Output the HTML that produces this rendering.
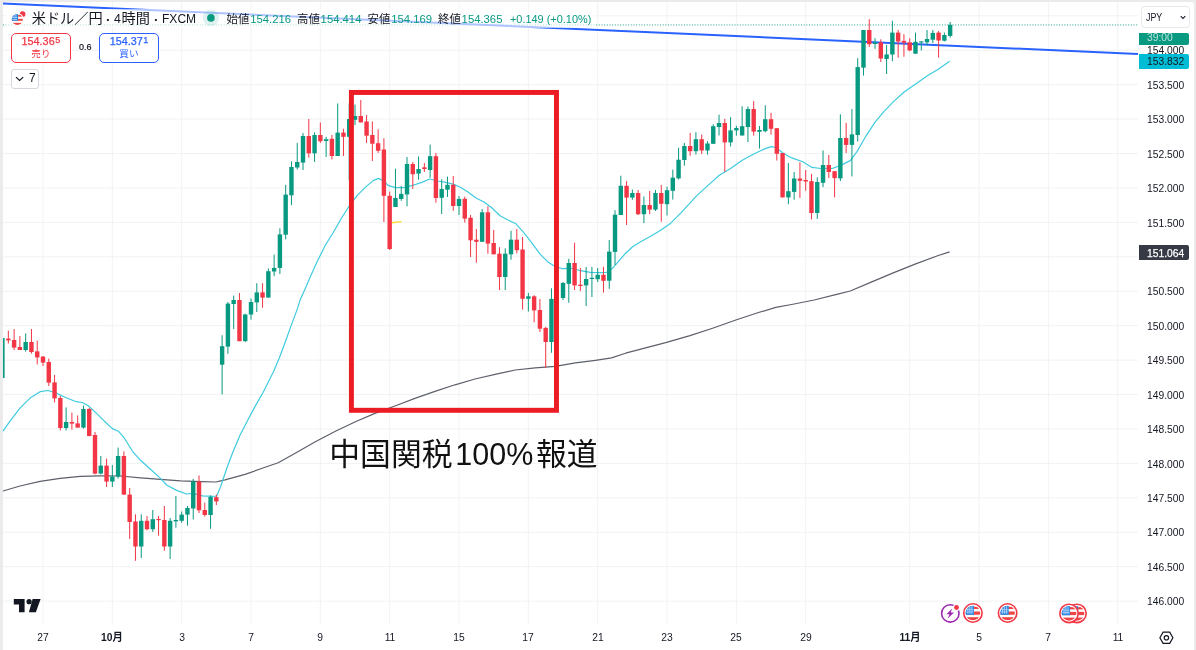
<!DOCTYPE html>
<html lang="ja"><head><meta charset="utf-8"><title>USDJPY</title>
<style>
html,body{margin:0;padding:0}
body{width:1196px;height:650px;overflow:hidden;background:#ebebeb;position:relative;font-family:"Liberation Sans","Noto Sans CJK JP",sans-serif;color:#131722}
#chart{position:absolute;left:2.8px;top:1.9px;width:1191.2px;height:649px;background:#fff;border-radius:3px 3px 0 0}
svg{position:absolute;left:0;top:0}
.g{stroke:#f1f3f3;stroke-width:1}
.yl{position:absolute;left:1146.8px;width:46px;text-align:left;transform:scaleX(.945);transform-origin:0 50%;font-size:10.9px;line-height:14px;height:14px;color:#131722;white-space:nowrap}
.tl{position:absolute;top:630.2px;width:40px;text-align:center;transform:scaleX(.945);font-size:10.9px;line-height:14px;height:14px;white-space:nowrap}
.tl.b{font-weight:bold}
.abs{position:absolute;white-space:nowrap}
.lg{position:absolute;top:12px;font-size:10.9px;line-height:14px;white-space:nowrap}
.gv{color:#089981}
.tt{position:absolute;top:8.2px;font-size:14.2px;line-height:20px;color:#131722;white-space:nowrap;transform-origin:0 50%}
.tt.la{font-size:13.7px;top:8.6px}
.pl{position:absolute;left:1139px;width:50.2px;border-radius:0 2px 2px 0;font-size:10.9px;white-space:nowrap;overflow:hidden}
.pl span{display:inline-block;margin-left:7.8px;transform:scaleX(.945);transform-origin:0 50%}
.lk{font-size:11.4px;color:#131722}
.lv{display:inline-block;color:#089981;font-size:11.3px;transform-origin:0 50%;margin-left:.8px}
.bs{position:absolute;top:33px;height:28px;border:1px solid;border-radius:5px;text-align:center;background:#fff;white-space:nowrap}
.bs .p{font-size:10.8px;line-height:12px;margin-top:1px;-webkit-text-stroke:.25px currentColor}
.bs .p span{font-size:9px;position:relative;top:-2.2px;margin-left:.5px}
.bs .t{font-size:9.6px;line-height:12px;margin-top:.1px}
</style></head><body>
<div id="chart"></div>
<svg width="1196" height="650" viewBox="0 0 1196 650">
<line x1="3" y1="15.82" x2="1138" y2="15.82" class="g"/>
<line x1="3" y1="50.25" x2="1138" y2="50.25" class="g"/>
<line x1="3" y1="84.68" x2="1138" y2="84.68" class="g"/>
<line x1="3" y1="119.11" x2="1138" y2="119.11" class="g"/>
<line x1="3" y1="153.54" x2="1138" y2="153.54" class="g"/>
<line x1="3" y1="187.97" x2="1138" y2="187.97" class="g"/>
<line x1="3" y1="222.40" x2="1138" y2="222.40" class="g"/>
<line x1="3" y1="256.83" x2="1138" y2="256.83" class="g"/>
<line x1="3" y1="291.26" x2="1138" y2="291.26" class="g"/>
<line x1="3" y1="325.69" x2="1138" y2="325.69" class="g"/>
<line x1="3" y1="360.12" x2="1138" y2="360.12" class="g"/>
<line x1="3" y1="394.55" x2="1138" y2="394.55" class="g"/>
<line x1="3" y1="428.98" x2="1138" y2="428.98" class="g"/>
<line x1="3" y1="463.41" x2="1138" y2="463.41" class="g"/>
<line x1="3" y1="497.84" x2="1138" y2="497.84" class="g"/>
<line x1="3" y1="532.27" x2="1138" y2="532.27" class="g"/>
<line x1="3" y1="566.70" x2="1138" y2="566.70" class="g"/>
<line x1="3" y1="601.13" x2="1138" y2="601.13" class="g"/>
<line x1="43.00" y1="2" x2="43.00" y2="624.6" class="g"/>
<line x1="112.34" y1="2" x2="112.34" y2="624.6" class="g"/>
<line x1="181.67" y1="2" x2="181.67" y2="624.6" class="g"/>
<line x1="251.01" y1="2" x2="251.01" y2="624.6" class="g"/>
<line x1="320.34" y1="2" x2="320.34" y2="624.6" class="g"/>
<line x1="389.68" y1="2" x2="389.68" y2="624.6" class="g"/>
<line x1="459.02" y1="2" x2="459.02" y2="624.6" class="g"/>
<line x1="528.35" y1="2" x2="528.35" y2="624.6" class="g"/>
<line x1="597.69" y1="2" x2="597.69" y2="624.6" class="g"/>
<line x1="667.02" y1="2" x2="667.02" y2="624.6" class="g"/>
<line x1="736.36" y1="2" x2="736.36" y2="624.6" class="g"/>
<line x1="805.70" y1="2" x2="805.70" y2="624.6" class="g"/>
<line x1="909.70" y1="2" x2="909.70" y2="624.6" class="g"/>
<line x1="979.04" y1="2" x2="979.04" y2="624.6" class="g"/>
<line x1="1048.37" y1="2" x2="1048.37" y2="624.6" class="g"/>
<line x1="1117.71" y1="2" x2="1117.71" y2="624.6" class="g"/>
<path d="M3.0,491.0 L20.0,486.0 L40.1,481.4 L60.2,478.4 L80.3,476.4 L100.3,475.8 L120.4,476.0 L140.5,477.8 L160.5,479.4 L180.6,480.8 L200.7,481.6 L215.7,482.0 L220.7,480.8 L225.0,479.8 L245.0,474.4 L265.1,467.3 L278.2,462.7 L295.2,453.3 L315.3,441.8 L335.4,431.2 L355.4,421.8 L375.5,413.1 L395.6,405.7 L415.6,398.1 L435.7,391.1 L455.0,384.8 L475.0,379.0 L495.1,374.3 L515.2,370.0 L535.3,367.9 L555.3,366.3 L575.4,362.9 L595.5,360.3 L611.5,357.9 L625.6,353.2 L645.6,347.8 L665.7,342.6 L690.0,335.6 L712.6,328.2 L735.1,320.3 L757.7,312.8 L775.8,307.4 L791.6,304.5 L814.2,300.0 L836.7,294.3 L850.3,291.0 L870.6,282.4 L893.2,272.9 L915.7,263.9 L938.3,255.5 L949.6,251.9" fill="none" stroke="#5d606b" stroke-width="1.2" stroke-linejoin="round"/>
<path d="M3.0,431.2 L10.0,421.2 L20.0,408.1 L30.1,398.1 L40.1,391.7 L48.2,390.5 L56.2,393.1 L66.2,397.7 L76.3,401.7 L82.3,402.5 L88.3,405.7 L96.3,413.1 L104.4,421.2 L112.4,428.6 L118.4,431.2 L124.4,438.2 L132.5,451.3 L140.5,460.3 L150.5,469.3 L160.5,478.4 L166.6,485.0 L176.6,490.4 L186.6,494.0 L192.7,493.4 L202.7,495.8 L212.7,496.4 L216.7,496.0 L220.7,486.4 L226.8,468.3 L232.8,452.3 L240.0,435.2 L248.1,419.4 L255.1,406.4 L263.2,392.3 L273.2,372.3 L279.2,358.2 L285.2,342.2 L291.3,325.1 L297.3,309.1 L300.3,299.4 L305.3,288.4 L311.3,274.4 L317.3,261.3 L325.3,245.3 L333.4,232.2 L341.4,218.2 L349.4,205.7 L357.5,195.1 L365.5,187.1 L373.5,180.4 L378.5,178.4 L383.5,181.0 L388.6,185.7 L395.6,187.7 L403.6,187.7 L411.6,185.7 L421.7,182.4 L429.7,179.0 L437.7,181.0 L445.8,182.4 L453.8,184.4 L460.0,187.0 L468.0,192.0 L476.0,198.0 L484.0,202.0 L492.0,208.0 L500.0,215.8 L508.0,220.0 L516.0,223.8 L524.2,233.2 L532.2,243.3 L540.3,254.3 L548.3,262.3 L554.3,266.0 L562.3,268.7 L572.4,268.3 L580.4,270.7 L590.4,272.3 L600.5,272.7 L606.5,272.3 L612.5,268.3 L618.5,261.3 L624.6,254.3 L632.6,246.7 L640.6,241.8 L650.6,236.2 L660.7,230.2 L670.7,223.2 L680.7,213.1 L690.8,202.1 L696.8,195.6 L708.0,185.4 L719.3,175.3 L730.6,168.5 L741.9,160.6 L753.2,154.3 L764.5,148.9 L771.3,146.6 L775.8,147.5 L782.6,152.7 L791.6,157.9 L802.9,161.7 L811.9,167.4 L820.9,168.5 L832.2,168.5 L841.2,165.1 L850.3,160.6 L857.0,151.6 L866.1,135.8 L875.1,122.2 L884.1,111.4 L893.2,101.9 L904.4,91.8 L915.7,83.9 L927.0,76.0 L938.3,69.2 L949.6,61.3" fill="none" stroke="#3ecbdf" stroke-width="1.2" stroke-linejoin="round"/>
<line x1="3" y1="24.8" x2="1138" y2="24.8" stroke="#089981" stroke-width="1.7" stroke-dasharray="1,1.66" opacity="0.5"/>
<line x1="3" y1="3.6" x2="1138" y2="53.95" stroke="#2962ff" stroke-width="2"/>
<rect x="3" y="338" width="1.6" height="40" fill="#089981"/>
<rect x="7.83" y="330.6" width="1" height="13.0" fill="#f23645"/>
<rect x="6.13" y="338.6" width="4.4" height="1.8" fill="#f23645"/>
<rect x="13.61" y="329.0" width="1" height="21.0" fill="#f23645"/>
<rect x="11.91" y="340.0" width="4.4" height="7.6" fill="#f23645"/>
<rect x="19.39" y="336.0" width="1" height="14.0" fill="#f23645"/>
<rect x="17.69" y="347.0" width="4.4" height="3.0" fill="#f23645"/>
<rect x="25.17" y="333.4" width="1" height="18.2" fill="#089981"/>
<rect x="23.47" y="342.0" width="4.4" height="8.0" fill="#089981"/>
<rect x="30.94" y="329.0" width="1" height="24.6" fill="#f23645"/>
<rect x="29.24" y="342.0" width="4.4" height="10.0" fill="#f23645"/>
<rect x="36.72" y="340.6" width="1" height="23.8" fill="#f23645"/>
<rect x="35.02" y="351.4" width="4.4" height="6.0" fill="#f23645"/>
<rect x="42.50" y="356.0" width="1" height="10.0" fill="#f23645"/>
<rect x="40.80" y="356.6" width="4.4" height="6.0" fill="#f23645"/>
<rect x="48.28" y="358.6" width="1" height="27.4" fill="#f23645"/>
<rect x="46.58" y="362.0" width="4.4" height="20.6" fill="#f23645"/>
<rect x="54.06" y="375.0" width="1" height="27.4" fill="#f23645"/>
<rect x="52.36" y="382.4" width="4.4" height="16.0" fill="#f23645"/>
<rect x="59.83" y="396.0" width="1" height="34.4" fill="#f23645"/>
<rect x="58.13" y="398.0" width="4.4" height="30.0" fill="#f23645"/>
<rect x="65.61" y="407.4" width="1" height="23.0" fill="#089981"/>
<rect x="63.91" y="422.0" width="4.4" height="6.0" fill="#089981"/>
<rect x="71.39" y="412.6" width="1" height="17.0" fill="#f23645"/>
<rect x="69.69" y="422.0" width="4.4" height="1.6" fill="#f23645"/>
<rect x="77.17" y="415.4" width="1" height="12.2" fill="#f23645"/>
<rect x="75.47" y="423.4" width="4.4" height="4.2" fill="#f23645"/>
<rect x="82.95" y="405.6" width="1" height="23.0" fill="#089981"/>
<rect x="81.25" y="409.0" width="4.4" height="18.6" fill="#089981"/>
<rect x="88.72" y="408.0" width="1" height="28.4" fill="#f23645"/>
<rect x="87.02" y="409.0" width="4.4" height="27.0" fill="#f23645"/>
<rect x="94.50" y="432.0" width="1" height="42.4" fill="#f23645"/>
<rect x="92.80" y="435.0" width="4.4" height="38.6" fill="#f23645"/>
<rect x="100.28" y="456.0" width="1" height="18.4" fill="#089981"/>
<rect x="98.58" y="465.6" width="4.4" height="8.0" fill="#089981"/>
<rect x="106.06" y="458.6" width="1" height="28.4" fill="#f23645"/>
<rect x="104.36" y="465.6" width="4.4" height="16.0" fill="#f23645"/>
<rect x="111.84" y="465.0" width="1" height="22.0" fill="#089981"/>
<rect x="110.14" y="476.6" width="4.4" height="5.0" fill="#089981"/>
<rect x="117.61" y="447.6" width="1" height="31.0" fill="#089981"/>
<rect x="115.91" y="456.0" width="4.4" height="20.6" fill="#089981"/>
<rect x="123.39" y="451.4" width="1" height="43.6" fill="#f23645"/>
<rect x="121.69" y="456.0" width="4.4" height="38.6" fill="#f23645"/>
<rect x="129.17" y="488.0" width="1" height="51.0" fill="#f23645"/>
<rect x="127.47" y="494.6" width="4.4" height="27.4" fill="#f23645"/>
<rect x="134.95" y="514.3" width="1" height="46.5" fill="#f23645"/>
<rect x="133.25" y="521.5" width="4.4" height="25.0" fill="#f23645"/>
<rect x="140.73" y="514.3" width="1" height="43.7" fill="#089981"/>
<rect x="139.03" y="520.8" width="4.4" height="25.7" fill="#089981"/>
<rect x="146.50" y="516.0" width="1" height="14.3" fill="#f23645"/>
<rect x="144.80" y="520.8" width="4.4" height="8.4" fill="#f23645"/>
<rect x="152.28" y="510.0" width="1" height="21.8" fill="#089981"/>
<rect x="150.58" y="519.2" width="4.4" height="10.0" fill="#089981"/>
<rect x="158.06" y="515.8" width="1" height="20.0" fill="#f23645"/>
<rect x="156.36" y="519.0" width="4.4" height="1.2" fill="#f23645"/>
<rect x="163.84" y="506.0" width="1" height="44.8" fill="#f23645"/>
<rect x="162.14" y="520.0" width="4.4" height="26.5" fill="#f23645"/>
<rect x="169.62" y="518.0" width="1" height="41.0" fill="#089981"/>
<rect x="167.92" y="520.8" width="4.4" height="25.7" fill="#089981"/>
<rect x="175.39" y="496.0" width="1" height="31.7" fill="#089981"/>
<rect x="173.69" y="520.0" width="4.4" height="1.4" fill="#089981"/>
<rect x="181.17" y="511.5" width="1" height="11.3" fill="#089981"/>
<rect x="179.47" y="514.6" width="4.4" height="6.2" fill="#089981"/>
<rect x="186.95" y="506.0" width="1" height="19.7" fill="#089981"/>
<rect x="185.25" y="508.0" width="4.4" height="6.6" fill="#089981"/>
<rect x="192.73" y="479.0" width="1" height="40.5" fill="#089981"/>
<rect x="191.03" y="481.5" width="4.4" height="27.0" fill="#089981"/>
<rect x="198.51" y="475.4" width="1" height="37.6" fill="#f23645"/>
<rect x="196.81" y="481.5" width="4.4" height="28.8" fill="#f23645"/>
<rect x="204.28" y="502.6" width="1" height="14.0" fill="#f23645"/>
<rect x="202.58" y="510.0" width="4.4" height="5.0" fill="#f23645"/>
<rect x="210.06" y="495.4" width="1" height="33.4" fill="#089981"/>
<rect x="208.36" y="497.0" width="4.4" height="18.0" fill="#089981"/>
<rect x="215.84" y="494.6" width="1" height="10.4" fill="#f23645"/>
<rect x="214.14" y="497.2" width="4.4" height="4.2" fill="#f23645"/>
<rect x="221.62" y="335.2" width="1" height="59.2" fill="#089981"/>
<rect x="219.92" y="346.2" width="4.4" height="18.5" fill="#089981"/>
<rect x="227.40" y="302.0" width="1" height="51.8" fill="#089981"/>
<rect x="225.70" y="303.6" width="4.4" height="43.0" fill="#089981"/>
<rect x="233.17" y="295.6" width="1" height="33.5" fill="#089981"/>
<rect x="231.47" y="300.0" width="4.4" height="4.0" fill="#089981"/>
<rect x="238.95" y="293.0" width="1" height="48.2" fill="#f23645"/>
<rect x="237.25" y="300.0" width="4.4" height="41.2" fill="#f23645"/>
<rect x="244.73" y="313.6" width="1" height="28.4" fill="#089981"/>
<rect x="243.03" y="314.5" width="4.4" height="26.7" fill="#089981"/>
<rect x="250.51" y="298.4" width="1" height="21.3" fill="#089981"/>
<rect x="248.81" y="302.0" width="4.4" height="12.5" fill="#089981"/>
<rect x="256.29" y="283.2" width="1" height="28.8" fill="#089981"/>
<rect x="254.59" y="292.4" width="4.4" height="10.0" fill="#089981"/>
<rect x="262.06" y="283.2" width="1" height="24.5" fill="#f23645"/>
<rect x="260.36" y="292.4" width="4.4" height="5.2" fill="#f23645"/>
<rect x="267.84" y="268.5" width="1" height="29.1" fill="#089981"/>
<rect x="266.14" y="271.2" width="4.4" height="26.4" fill="#089981"/>
<rect x="273.62" y="254.6" width="1" height="21.6" fill="#089981"/>
<rect x="271.92" y="267.9" width="4.4" height="3.6" fill="#089981"/>
<rect x="279.40" y="228.3" width="1" height="45.7" fill="#089981"/>
<rect x="277.70" y="234.4" width="4.4" height="33.5" fill="#089981"/>
<rect x="285.18" y="184.8" width="1" height="54.6" fill="#089981"/>
<rect x="283.48" y="194.6" width="4.4" height="40.1" fill="#089981"/>
<rect x="290.95" y="161.4" width="1" height="43.8" fill="#089981"/>
<rect x="289.25" y="167.0" width="4.4" height="28.3" fill="#089981"/>
<rect x="296.73" y="143.0" width="1" height="26.5" fill="#089981"/>
<rect x="295.03" y="162.0" width="4.4" height="5.5" fill="#089981"/>
<rect x="302.51" y="133.0" width="1" height="37.0" fill="#089981"/>
<rect x="300.81" y="136.0" width="4.4" height="26.6" fill="#089981"/>
<rect x="308.29" y="119.0" width="1" height="38.7" fill="#f23645"/>
<rect x="306.59" y="136.0" width="4.4" height="17.3" fill="#f23645"/>
<rect x="314.07" y="132.3" width="1" height="29.6" fill="#089981"/>
<rect x="312.37" y="135.0" width="4.4" height="18.3" fill="#089981"/>
<rect x="319.84" y="122.5" width="1" height="20.5" fill="#f23645"/>
<rect x="318.14" y="135.0" width="4.4" height="6.2" fill="#f23645"/>
<rect x="325.62" y="136.8" width="1" height="20.2" fill="#089981"/>
<rect x="323.92" y="139.2" width="4.4" height="1.8" fill="#089981"/>
<rect x="331.40" y="135.0" width="1" height="24.4" fill="#f23645"/>
<rect x="329.70" y="138.8" width="4.4" height="17.2" fill="#f23645"/>
<rect x="337.18" y="103.5" width="1" height="52.5" fill="#089981"/>
<rect x="335.48" y="132.6" width="4.4" height="23.4" fill="#089981"/>
<rect x="342.96" y="128.7" width="1" height="27.3" fill="#f23645"/>
<rect x="341.26" y="132.6" width="4.4" height="4.2" fill="#f23645"/>
<rect x="348.73" y="103.5" width="1" height="76.5" fill="#089981"/>
<rect x="347.03" y="119.0" width="4.4" height="17.8" fill="#089981"/>
<rect x="354.51" y="104.6" width="1" height="20.4" fill="#089981"/>
<rect x="352.81" y="116.0" width="4.4" height="3.8" fill="#089981"/>
<rect x="360.29" y="100.0" width="1" height="22.4" fill="#f23645"/>
<rect x="358.59" y="116.0" width="4.4" height="6.4" fill="#f23645"/>
<rect x="366.07" y="115.0" width="1" height="28.0" fill="#f23645"/>
<rect x="364.37" y="121.5" width="4.4" height="14.2" fill="#f23645"/>
<rect x="371.85" y="121.5" width="1" height="39.5" fill="#f23645"/>
<rect x="370.15" y="135.0" width="4.4" height="8.7" fill="#f23645"/>
<rect x="377.62" y="129.3" width="1" height="23.6" fill="#f23645"/>
<rect x="375.92" y="143.2" width="4.4" height="7.6" fill="#f23645"/>
<rect x="383.40" y="138.2" width="1" height="83.8" fill="#f23645"/>
<rect x="381.70" y="149.5" width="4.4" height="46.3" fill="#f23645"/>
<rect x="389.18" y="191.6" width="1" height="58.4" fill="#f23645"/>
<rect x="387.48" y="195.8" width="4.4" height="53.2" fill="#f23645"/>
<rect x="394.96" y="168.7" width="1" height="38.3" fill="#089981"/>
<rect x="393.26" y="198.0" width="4.4" height="9.0" fill="#089981"/>
<rect x="400.74" y="186.0" width="1" height="14.8" fill="#089981"/>
<rect x="399.04" y="193.9" width="4.4" height="5.1" fill="#089981"/>
<rect x="406.51" y="157.0" width="1" height="49.3" fill="#089981"/>
<rect x="404.81" y="164.0" width="4.4" height="30.4" fill="#089981"/>
<rect x="412.29" y="162.0" width="1" height="27.0" fill="#f23645"/>
<rect x="410.59" y="164.0" width="4.4" height="10.2" fill="#f23645"/>
<rect x="418.07" y="156.5" width="1" height="23.2" fill="#089981"/>
<rect x="416.37" y="169.0" width="4.4" height="4.6" fill="#089981"/>
<rect x="423.85" y="163.0" width="1" height="9.0" fill="#f23645"/>
<rect x="422.15" y="167.3" width="4.4" height="1.7" fill="#f23645"/>
<rect x="429.63" y="144.6" width="1" height="33.2" fill="#089981"/>
<rect x="427.93" y="156.2" width="4.4" height="13.8" fill="#089981"/>
<rect x="435.40" y="152.9" width="1" height="49.8" fill="#f23645"/>
<rect x="433.70" y="156.2" width="4.4" height="41.8" fill="#f23645"/>
<rect x="441.18" y="179.3" width="1" height="34.7" fill="#089981"/>
<rect x="439.48" y="189.0" width="4.4" height="8.8" fill="#089981"/>
<rect x="446.96" y="176.6" width="1" height="20.4" fill="#089981"/>
<rect x="445.26" y="184.8" width="4.4" height="4.9" fill="#089981"/>
<rect x="452.74" y="176.0" width="1" height="34.8" fill="#f23645"/>
<rect x="451.04" y="184.8" width="4.4" height="21.2" fill="#f23645"/>
<rect x="458.52" y="196.0" width="1" height="19.0" fill="#089981"/>
<rect x="456.82" y="198.9" width="4.4" height="7.1" fill="#089981"/>
<rect x="464.29" y="196.6" width="1" height="25.9" fill="#f23645"/>
<rect x="462.59" y="198.8" width="4.4" height="19.8" fill="#f23645"/>
<rect x="470.07" y="215.0" width="1" height="42.0" fill="#f23645"/>
<rect x="468.37" y="217.7" width="4.4" height="22.6" fill="#f23645"/>
<rect x="475.85" y="229.0" width="1" height="33.7" fill="#f23645"/>
<rect x="474.15" y="239.7" width="4.4" height="2.1" fill="#f23645"/>
<rect x="481.63" y="209.0" width="1" height="32.8" fill="#089981"/>
<rect x="479.93" y="212.3" width="4.4" height="29.5" fill="#089981"/>
<rect x="487.41" y="206.3" width="1" height="47.4" fill="#f23645"/>
<rect x="485.71" y="212.3" width="4.4" height="31.3" fill="#f23645"/>
<rect x="493.18" y="230.0" width="1" height="24.3" fill="#f23645"/>
<rect x="491.48" y="243.0" width="4.4" height="11.3" fill="#f23645"/>
<rect x="498.96" y="247.2" width="1" height="42.8" fill="#f23645"/>
<rect x="497.26" y="253.7" width="4.4" height="23.3" fill="#f23645"/>
<rect x="504.74" y="248.3" width="1" height="41.7" fill="#089981"/>
<rect x="503.04" y="253.7" width="4.4" height="23.3" fill="#089981"/>
<rect x="510.52" y="230.8" width="1" height="28.9" fill="#089981"/>
<rect x="508.82" y="239.7" width="4.4" height="14.6" fill="#089981"/>
<rect x="516.30" y="229.0" width="1" height="24.4" fill="#f23645"/>
<rect x="514.60" y="239.7" width="4.4" height="10.5" fill="#f23645"/>
<rect x="522.07" y="237.0" width="1" height="72.6" fill="#f23645"/>
<rect x="520.37" y="249.5" width="4.4" height="49.3" fill="#f23645"/>
<rect x="527.85" y="292.9" width="1" height="18.6" fill="#089981"/>
<rect x="526.15" y="296.3" width="4.4" height="2.5" fill="#089981"/>
<rect x="533.63" y="295.2" width="1" height="27.0" fill="#f23645"/>
<rect x="531.93" y="296.3" width="4.4" height="14.1" fill="#f23645"/>
<rect x="539.41" y="299.0" width="1" height="33.0" fill="#f23645"/>
<rect x="537.71" y="310.0" width="4.4" height="18.7" fill="#f23645"/>
<rect x="545.19" y="326.8" width="1" height="41.0" fill="#f23645"/>
<rect x="543.49" y="327.9" width="4.4" height="14.1" fill="#f23645"/>
<rect x="550.96" y="288.3" width="1" height="64.5" fill="#089981"/>
<rect x="549.26" y="298.9" width="4.4" height="43.1" fill="#089981"/>
<rect x="562.52" y="282.0" width="1" height="18.0" fill="#089981"/>
<rect x="560.82" y="283.0" width="4.4" height="15.0" fill="#089981"/>
<rect x="568.30" y="258.8" width="1" height="43.9" fill="#089981"/>
<rect x="566.60" y="263.0" width="4.4" height="20.8" fill="#089981"/>
<rect x="574.08" y="242.7" width="1" height="47.3" fill="#f23645"/>
<rect x="572.38" y="263.0" width="4.4" height="22.4" fill="#f23645"/>
<rect x="579.85" y="268.0" width="1" height="23.0" fill="#f23645"/>
<rect x="578.15" y="284.7" width="4.4" height="1.3" fill="#f23645"/>
<rect x="585.63" y="267.0" width="1" height="39.0" fill="#089981"/>
<rect x="583.93" y="279.0" width="4.4" height="6.4" fill="#089981"/>
<rect x="591.41" y="267.0" width="1" height="30.0" fill="#089981"/>
<rect x="589.71" y="277.8" width="4.4" height="1.2" fill="#089981"/>
<rect x="597.19" y="268.0" width="1" height="14.0" fill="#089981"/>
<rect x="595.49" y="274.8" width="4.4" height="4.4" fill="#089981"/>
<rect x="602.97" y="266.8" width="1" height="25.8" fill="#f23645"/>
<rect x="601.27" y="274.8" width="4.4" height="6.0" fill="#f23645"/>
<rect x="608.74" y="240.0" width="1" height="48.8" fill="#089981"/>
<rect x="607.04" y="251.6" width="4.4" height="29.1" fill="#089981"/>
<rect x="614.52" y="210.3" width="1" height="54.7" fill="#089981"/>
<rect x="612.82" y="214.7" width="4.4" height="37.2" fill="#089981"/>
<rect x="620.30" y="175.7" width="1" height="39.3" fill="#089981"/>
<rect x="618.60" y="185.8" width="4.4" height="29.2" fill="#089981"/>
<rect x="626.08" y="181.2" width="1" height="43.8" fill="#f23645"/>
<rect x="624.38" y="185.8" width="4.4" height="11.8" fill="#f23645"/>
<rect x="631.86" y="189.5" width="1" height="10.2" fill="#089981"/>
<rect x="630.16" y="193.0" width="4.4" height="4.6" fill="#089981"/>
<rect x="637.63" y="190.0" width="1" height="25.0" fill="#f23645"/>
<rect x="635.93" y="193.0" width="4.4" height="21.2" fill="#f23645"/>
<rect x="643.41" y="196.5" width="1" height="26.5" fill="#089981"/>
<rect x="641.71" y="205.0" width="4.4" height="9.2" fill="#089981"/>
<rect x="649.19" y="191.0" width="1" height="23.2" fill="#f23645"/>
<rect x="647.49" y="205.0" width="4.4" height="4.6" fill="#f23645"/>
<rect x="654.97" y="190.0" width="1" height="21.0" fill="#089981"/>
<rect x="653.27" y="193.0" width="4.4" height="16.6" fill="#089981"/>
<rect x="660.75" y="185.0" width="1" height="36.6" fill="#f23645"/>
<rect x="659.05" y="193.0" width="4.4" height="10.8" fill="#f23645"/>
<rect x="666.52" y="186.7" width="1" height="28.7" fill="#089981"/>
<rect x="664.82" y="190.2" width="4.4" height="14.0" fill="#089981"/>
<rect x="672.30" y="169.6" width="1" height="30.0" fill="#089981"/>
<rect x="670.60" y="177.7" width="4.4" height="13.1" fill="#089981"/>
<rect x="678.08" y="147.7" width="1" height="31.8" fill="#089981"/>
<rect x="676.38" y="159.7" width="4.4" height="18.7" fill="#089981"/>
<rect x="683.86" y="143.0" width="1" height="22.7" fill="#089981"/>
<rect x="682.16" y="146.0" width="4.4" height="14.0" fill="#089981"/>
<rect x="689.64" y="133.0" width="1" height="22.8" fill="#f23645"/>
<rect x="687.94" y="146.0" width="4.4" height="5.2" fill="#f23645"/>
<rect x="695.41" y="132.2" width="1" height="22.4" fill="#089981"/>
<rect x="693.71" y="139.2" width="4.4" height="12.0" fill="#089981"/>
<rect x="701.19" y="134.5" width="1" height="19.5" fill="#f23645"/>
<rect x="699.49" y="139.2" width="4.4" height="11.3" fill="#f23645"/>
<rect x="706.97" y="141.2" width="1" height="13.4" fill="#089981"/>
<rect x="705.27" y="143.5" width="4.4" height="7.0" fill="#089981"/>
<rect x="712.75" y="124.2" width="1" height="19.6" fill="#089981"/>
<rect x="711.05" y="126.2" width="4.4" height="17.6" fill="#089981"/>
<rect x="718.53" y="114.7" width="1" height="20.8" fill="#089981"/>
<rect x="716.83" y="123.0" width="4.4" height="4.0" fill="#089981"/>
<rect x="724.30" y="118.8" width="1" height="53.2" fill="#f23645"/>
<rect x="722.60" y="123.0" width="4.4" height="19.4" fill="#f23645"/>
<rect x="730.08" y="117.2" width="1" height="29.3" fill="#089981"/>
<rect x="728.38" y="130.4" width="4.4" height="12.0" fill="#089981"/>
<rect x="735.86" y="125.8" width="1" height="9.9" fill="#089981"/>
<rect x="734.16" y="128.0" width="4.4" height="2.4" fill="#089981"/>
<rect x="741.64" y="106.2" width="1" height="29.3" fill="#089981"/>
<rect x="739.94" y="126.2" width="4.4" height="9.3" fill="#089981"/>
<rect x="747.42" y="106.5" width="1" height="35.5" fill="#089981"/>
<rect x="745.72" y="109.0" width="4.4" height="18.0" fill="#089981"/>
<rect x="753.19" y="101.0" width="1" height="34.6" fill="#f23645"/>
<rect x="751.49" y="109.0" width="4.4" height="22.6" fill="#f23645"/>
<rect x="758.97" y="126.0" width="1" height="22.5" fill="#089981"/>
<rect x="757.27" y="130.0" width="4.4" height="1.8" fill="#089981"/>
<rect x="764.75" y="105.3" width="1" height="27.0" fill="#089981"/>
<rect x="763.05" y="119.2" width="4.4" height="12.0" fill="#089981"/>
<rect x="770.53" y="112.7" width="1" height="21.9" fill="#f23645"/>
<rect x="768.83" y="119.2" width="4.4" height="9.6" fill="#f23645"/>
<rect x="776.31" y="128.2" width="1" height="32.3" fill="#f23645"/>
<rect x="774.61" y="128.2" width="4.4" height="25.6" fill="#f23645"/>
<rect x="782.08" y="153.0" width="1" height="44.4" fill="#f23645"/>
<rect x="780.38" y="153.0" width="4.4" height="44.4" fill="#f23645"/>
<rect x="787.86" y="163.0" width="1" height="41.3" fill="#089981"/>
<rect x="786.16" y="191.2" width="4.4" height="6.2" fill="#089981"/>
<rect x="793.64" y="172.0" width="1" height="27.7" fill="#089981"/>
<rect x="791.94" y="178.5" width="4.4" height="13.4" fill="#089981"/>
<rect x="799.42" y="162.3" width="1" height="35.7" fill="#f23645"/>
<rect x="797.72" y="178.5" width="4.4" height="2.3" fill="#f23645"/>
<rect x="805.20" y="170.0" width="1" height="20.7" fill="#f23645"/>
<rect x="803.50" y="180.0" width="4.4" height="1.5" fill="#f23645"/>
<rect x="810.97" y="173.9" width="1" height="45.6" fill="#f23645"/>
<rect x="809.27" y="181.2" width="4.4" height="31.8" fill="#f23645"/>
<rect x="816.75" y="177.3" width="1" height="41.6" fill="#089981"/>
<rect x="815.05" y="182.0" width="4.4" height="31.0" fill="#089981"/>
<rect x="822.53" y="150.4" width="1" height="36.7" fill="#089981"/>
<rect x="820.83" y="165.0" width="4.4" height="17.8" fill="#089981"/>
<rect x="828.31" y="155.0" width="1" height="23.0" fill="#f23645"/>
<rect x="826.61" y="165.0" width="4.4" height="7.0" fill="#f23645"/>
<rect x="834.09" y="171.0" width="1" height="26.4" fill="#f23645"/>
<rect x="832.39" y="171.2" width="4.4" height="6.9" fill="#f23645"/>
<rect x="839.86" y="114.3" width="1" height="66.7" fill="#089981"/>
<rect x="838.16" y="138.0" width="4.4" height="40.4" fill="#089981"/>
<rect x="845.64" y="122.8" width="1" height="30.2" fill="#f23645"/>
<rect x="843.94" y="138.0" width="4.4" height="6.9" fill="#f23645"/>
<rect x="851.42" y="109.0" width="1" height="67.4" fill="#089981"/>
<rect x="849.72" y="134.4" width="4.4" height="10.5" fill="#089981"/>
<rect x="857.20" y="58.2" width="1" height="83.3" fill="#089981"/>
<rect x="855.50" y="67.1" width="4.4" height="67.9" fill="#089981"/>
<rect x="862.98" y="30.0" width="1" height="45.6" fill="#089981"/>
<rect x="861.28" y="30.0" width="4.4" height="37.7" fill="#089981"/>
<rect x="868.75" y="19.2" width="1" height="27.8" fill="#f23645"/>
<rect x="867.05" y="30.0" width="4.4" height="14.2" fill="#f23645"/>
<rect x="874.53" y="38.2" width="1" height="10.6" fill="#089981"/>
<rect x="872.83" y="42.3" width="4.4" height="1.7" fill="#089981"/>
<rect x="880.31" y="39.3" width="1" height="22.7" fill="#f23645"/>
<rect x="878.61" y="42.3" width="4.4" height="16.2" fill="#f23645"/>
<rect x="886.09" y="45.0" width="1" height="29.0" fill="#089981"/>
<rect x="884.39" y="54.5" width="4.4" height="4.5" fill="#089981"/>
<rect x="891.87" y="20.8" width="1" height="40.4" fill="#089981"/>
<rect x="890.17" y="32.6" width="4.4" height="21.9" fill="#089981"/>
<rect x="897.64" y="29.9" width="1" height="27.8" fill="#f23645"/>
<rect x="895.94" y="32.6" width="4.4" height="8.9" fill="#f23645"/>
<rect x="903.42" y="34.2" width="1" height="22.5" fill="#f23645"/>
<rect x="901.72" y="40.9" width="4.4" height="1.9" fill="#f23645"/>
<rect x="909.20" y="38.2" width="1" height="13.0" fill="#f23645"/>
<rect x="907.50" y="42.3" width="4.4" height="8.1" fill="#f23645"/>
<rect x="914.98" y="32.6" width="1" height="21.1" fill="#089981"/>
<rect x="913.28" y="41.8" width="4.4" height="11.9" fill="#089981"/>
<rect x="920.76" y="41.0" width="1" height="9.5" fill="#089981"/>
<rect x="919.06" y="41.4" width="4.4" height="1.1" fill="#089981"/>
<rect x="926.53" y="30.0" width="1" height="15.5" fill="#089981"/>
<rect x="924.83" y="39.0" width="4.4" height="3.3" fill="#089981"/>
<rect x="932.31" y="30.0" width="1" height="13.0" fill="#089981"/>
<rect x="930.61" y="32.9" width="4.4" height="6.8" fill="#089981"/>
<rect x="938.09" y="31.0" width="1" height="26.6" fill="#f23645"/>
<rect x="936.39" y="32.6" width="4.4" height="7.9" fill="#f23645"/>
<rect x="943.87" y="32.6" width="1" height="8.8" fill="#089981"/>
<rect x="942.17" y="35.0" width="4.4" height="5.7" fill="#089981"/>
<rect x="949.65" y="22.0" width="1" height="15.7" fill="#089981"/>
<rect x="947.95" y="24.8" width="4.4" height="11.1" fill="#089981"/>
<line x1="392" y1="222.8" x2="401.6" y2="221.6" stroke="#fbd835" stroke-width="1.4"/>
<rect x="351.42" y="92.45" width="205.06" height="317.85" fill="none" stroke="#ec1c24" stroke-width="4.95"/>
<text y="465.3" font-size="30.8" fill="#111" font-family="'Liberation Sans','Noto Sans CJK JP',sans-serif"><tspan x="329.3">中国関税</tspan><tspan x="455.3" font-size="30.5">100%</tspan><tspan x="536">報道</tspan></text>

<g transform="translate(950.3,613.4)">
<circle r="8.7" fill="#fff" stroke="#9c27b0" stroke-width="1.6"/>
<circle cx="6.2" cy="-5.9" r="3.6" fill="#fff"/>
<circle cx="6.2" cy="-5.9" r="2.4" fill="#f23645"/>
<path d="M1.9,-4.9 L-3.9,0.8 L-0.7,0.8 L-2.8,5.3 L3.7,-0.9 L0.4,-0.9 Z" fill="#9c27b0"/>
</g>
<g transform="translate(972.9,613)">
<circle r="9.2" fill="#fff" stroke="#f23645" stroke-width="1.6"/>
<clipPath id="c972"><circle r="7.3"/></clipPath>
<g clip-path="url(#c972)">
<rect x="-8" y="-8" width="16" height="16" fill="#fff"/>
<rect x="-8" y="-6.3" width="16" height="2.3" fill="#ef4444"/>
<rect x="-8" y="-1.5" width="16" height="3.2" fill="#ef4444"/>
<rect x="-8" y="4.2" width="16" height="3.4" fill="#ef4444"/>
<rect x="-8" y="-8" width="9.1" height="9.9" fill="#2f8be6"/>
<g fill="#b9d8f8"><rect x="-5.4" y="-5.4" width=".8" height="6"/><rect x="-3.4" y="-6.4" width=".8" height="7"/><rect x="-1.4" y="-6.8" width=".8" height="7.4"/><rect x="-6.5" y="-3.6" width="7" height=".7"/><rect x="-6.5" y="-1.4" width="7" height=".7"/></g>
</g></g>
<g transform="translate(1007.6,613)">
<circle r="9.2" fill="#fff" stroke="#f23645" stroke-width="1.6"/>
<clipPath id="c1007"><circle r="7.3"/></clipPath>
<g clip-path="url(#c1007)">
<rect x="-8" y="-8" width="16" height="16" fill="#fff"/>
<rect x="-8" y="-6.3" width="16" height="2.3" fill="#ef4444"/>
<rect x="-8" y="-1.5" width="16" height="3.2" fill="#ef4444"/>
<rect x="-8" y="4.2" width="16" height="3.4" fill="#ef4444"/>
<rect x="-8" y="-8" width="9.1" height="9.9" fill="#2f8be6"/>
<g fill="#b9d8f8"><rect x="-5.4" y="-5.4" width=".8" height="6"/><rect x="-3.4" y="-6.4" width=".8" height="7"/><rect x="-1.4" y="-6.8" width=".8" height="7.4"/><rect x="-6.5" y="-3.6" width="7" height=".7"/><rect x="-6.5" y="-1.4" width="7" height=".7"/></g>
</g></g>
<g transform="translate(1077,613.4)">
<circle r="9.2" fill="#fff" stroke="#f23645" stroke-width="1.6"/>
<clipPath id="c1077"><circle r="7.3"/></clipPath>
<g clip-path="url(#c1077)">
<rect x="-8" y="-8" width="16" height="16" fill="#fff"/>
<rect x="-8" y="-6.3" width="16" height="2.3" fill="#ef4444"/>
<rect x="-8" y="-1.5" width="16" height="3.2" fill="#ef4444"/>
<rect x="-8" y="4.2" width="16" height="3.4" fill="#ef4444"/>
<rect x="-8" y="-8" width="9.1" height="9.9" fill="#2f8be6"/>
<g fill="#b9d8f8"><rect x="-5.4" y="-5.4" width=".8" height="6"/><rect x="-3.4" y="-6.4" width=".8" height="7"/><rect x="-1.4" y="-6.8" width=".8" height="7.4"/><rect x="-6.5" y="-3.6" width="7" height=".7"/><rect x="-6.5" y="-1.4" width="7" height=".7"/></g>
</g></g>
<g transform="translate(1069,613.4)">
<circle r="9.2" fill="#fff" stroke="#f23645" stroke-width="1.6"/>
<clipPath id="c1069"><circle r="7.3"/></clipPath>
<g clip-path="url(#c1069)">
<rect x="-8" y="-8" width="16" height="16" fill="#fff"/>
<rect x="-8" y="-6.3" width="16" height="2.3" fill="#ef4444"/>
<rect x="-8" y="-1.5" width="16" height="3.2" fill="#ef4444"/>
<rect x="-8" y="4.2" width="16" height="3.4" fill="#ef4444"/>
<rect x="-8" y="-8" width="9.1" height="9.9" fill="#2f8be6"/>
<g fill="#b9d8f8"><rect x="-5.4" y="-5.4" width=".8" height="6"/><rect x="-3.4" y="-6.4" width=".8" height="7"/><rect x="-1.4" y="-6.8" width=".8" height="7.4"/><rect x="-6.5" y="-3.6" width="7" height=".7"/><rect x="-6.5" y="-1.4" width="7" height=".7"/></g>
</g></g>

<!-- tv logo -->
<g fill="#131722"><path d="M13.8,599 H24.6 V612.3 H19 V604.4 H13.8 Z"/><circle cx="29.1" cy="601.7" r="2.6"/><path d="M32.6,599 H40.6 L35.9,612.3 H28.9 Z"/></g>
<!-- settings hex -->
<g transform="translate(1166.4,637.8)" fill="none" stroke="#131722" stroke-width="1.2"><path d="M-6.5,0 L-3.3,-5.6 L3.3,-5.6 L6.5,0 L3.3,5.6 L-3.3,5.6 Z"/><circle r="2.2"/></g>
</svg>
<div class="yl" style="top:43.4px">154.000</div>
<div class="yl" style="top:77.8px">153.500</div>
<div class="yl" style="top:112.2px">153.000</div>
<div class="yl" style="top:146.6px">152.500</div>
<div class="yl" style="top:181.1px">152.000</div>
<div class="yl" style="top:215.5px">151.500</div>
<div class="yl" style="top:284.4px">150.500</div>
<div class="yl" style="top:318.8px">150.000</div>
<div class="yl" style="top:353.2px">149.500</div>
<div class="yl" style="top:387.7px">149.000</div>
<div class="yl" style="top:422.1px">148.500</div>
<div class="yl" style="top:456.5px">148.000</div>
<div class="yl" style="top:490.9px">147.500</div>
<div class="yl" style="top:525.4px">147.000</div>
<div class="yl" style="top:559.8px">146.500</div>
<div class="yl" style="top:594.2px">146.000</div>
<div class="tl" style="left:23.0px">27</div>
<div class="tl b" style="left:92.3px">10月</div>
<div class="tl" style="left:161.7px">3</div>
<div class="tl" style="left:231.0px">7</div>
<div class="tl" style="left:300.3px">9</div>
<div class="tl" style="left:369.7px">11</div>
<div class="tl" style="left:439.0px">15</div>
<div class="tl" style="left:508.4px">17</div>
<div class="tl" style="left:577.7px">21</div>
<div class="tl" style="left:647.0px">23</div>
<div class="tl" style="left:716.4px">25</div>
<div class="tl" style="left:785.7px">29</div>
<div class="tl b" style="left:889.7px">11月</div>
<div class="tl" style="left:959.0px">5</div>
<div class="tl" style="left:1028.4px">7</div>
<div class="tl" style="left:1097.7px">11</div>
<div class="abs" style="left:6px;top:9.2px;width:589px;height:18.6px;background:rgba(255,255,255,.62)"></div>
<svg width="1196" height="650" viewBox="0 0 1196 650">
<g>
<circle cx="22.6" cy="14.1" r="5.4" fill="#fff" stroke="#e9ecf5" stroke-width="0.7"/>
<circle cx="22.6" cy="14.1" r="2.9" fill="#f0384a"/>
<circle cx="17.3" cy="19.4" r="6.4" fill="#fff"/>
<clipPath id="uf"><circle cx="17.3" cy="19.4" r="5.5"/></clipPath>
<g clip-path="url(#uf)"><rect x="11" y="13" width="13" height="13" fill="#fff"/>
<rect x="11" y="14.8" width="13" height="1.9" fill="#ef4444"/><rect x="11" y="18.8" width="13" height="2" fill="#ef4444"/><rect x="11" y="22.8" width="13" height="2.3" fill="#ef4444"/>
<rect x="11" y="13" width="7" height="7.8" fill="#2f8be6"/>
<g fill="#d6e8fb"><rect x="13.2" y="15.6" width="3.6" height=".7"/><rect x="12.6" y="17.3" width="4.4" height=".7"/><rect x="12.4" y="19" width="4.6" height=".7"/></g></g>
</g>
<circle cx="210.9" cy="17.9" r="8.1" fill="#089981" opacity="0.13"/><circle cx="210.9" cy="17.9" r="3.8" fill="#089981"/>
</svg>
<div class="tt" style="left:31.7px">米ドル／円</div><div class="tt la" style="left:105.9px;top:9.5px;font-weight:bold">·</div><div class="tt la" style="left:114.2px;transform:scaleX(.9)">4</div><div class="tt" style="left:121.6px">時間</div><div class="tt la" style="left:154.1px;top:9.5px;font-weight:bold">·</div><div class="tt la" style="left:161.6px;transform:scaleX(.88)">FXCM</div>
<div class="lg" style="left:226.6px"><span class="lk">始値</span><span class="lv">154.216</span></div>
<div class="lg" style="left:297px"><span class="lk">高値</span><span class="lv">154.414</span></div>
<div class="lg" style="left:367.6px"><span class="lk">安値</span><span class="lv">154.169</span></div>
<div class="lg" style="left:438px"><span class="lk">終値</span><span class="lv">154.365</span></div>
<div class="lg" style="left:509.4px"><span class="lv" style="transform:scaleX(.966)">+0.149 (+0.10%)</span></div>
<!-- sell / buy -->
<div class="bs" style="left:10.9px;width:58px;border-color:#f23645;color:#f23645"><div class="p">154.36<span>5</span></div><div class="t">売り</div></div>
<div class="abs" style="left:79px;top:41px;font-size:9px;line-height:12px;color:#131722;-webkit-text-stroke:.2px #131722">0.6</div>
<div class="bs" style="left:99px;width:57.8px;border-color:#2962ff;color:#2962ff"><div class="p">154.37<span>1</span></div><div class="t">買い</div></div>
<div class="abs" style="left:11.4px;top:69.3px;width:25.6px;height:17.8px;border:1px solid #d6d8df;border-radius:3px;background:#fff"></div>
<div class="abs" style="left:28.9px;top:71.3px;font-size:12px;line-height:14px">7</div>
<!-- JPY box -->
<div class="abs" style="left:1141.2px;top:6.1px;width:47px;height:20.4px;border:1px solid #e6e8ee;border-radius:3.5px;background:#fff"></div>
<div class="abs" style="left:1145.5px;top:10.2px;font-size:11.4px;line-height:14px;transform:scaleX(0.78);transform-origin:0 0">JPY</div>
<svg width="1196" height="650" viewBox="0 0 1196 650"><path d="M16,77.1 L19.6,80.5 L23.2,77.1" fill="none" stroke="#131722" stroke-width="1.2"/><path d="M1180.7,16.2 L1183,18.4 L1185.3,16.2" fill="none" stroke="#131722" stroke-width="1.05"/></svg>
<!-- price labels -->
<div class="pl" style="top:32.5px;height:12.4px;background:#089981;color:rgba(255,255,255,.72);line-height:9.6px"><span>39:00</span></div>
<div class="pl" style="top:54.2px;height:14.7px;background:#00bcd4;color:#131722;line-height:15.2px"><span>153.832</span></div>
<div class="pl" style="top:244.9px;height:15.2px;background:#363a45;color:#fff;line-height:16.2px;-webkit-text-stroke:.25px #fff"><span>151.064</span></div>
